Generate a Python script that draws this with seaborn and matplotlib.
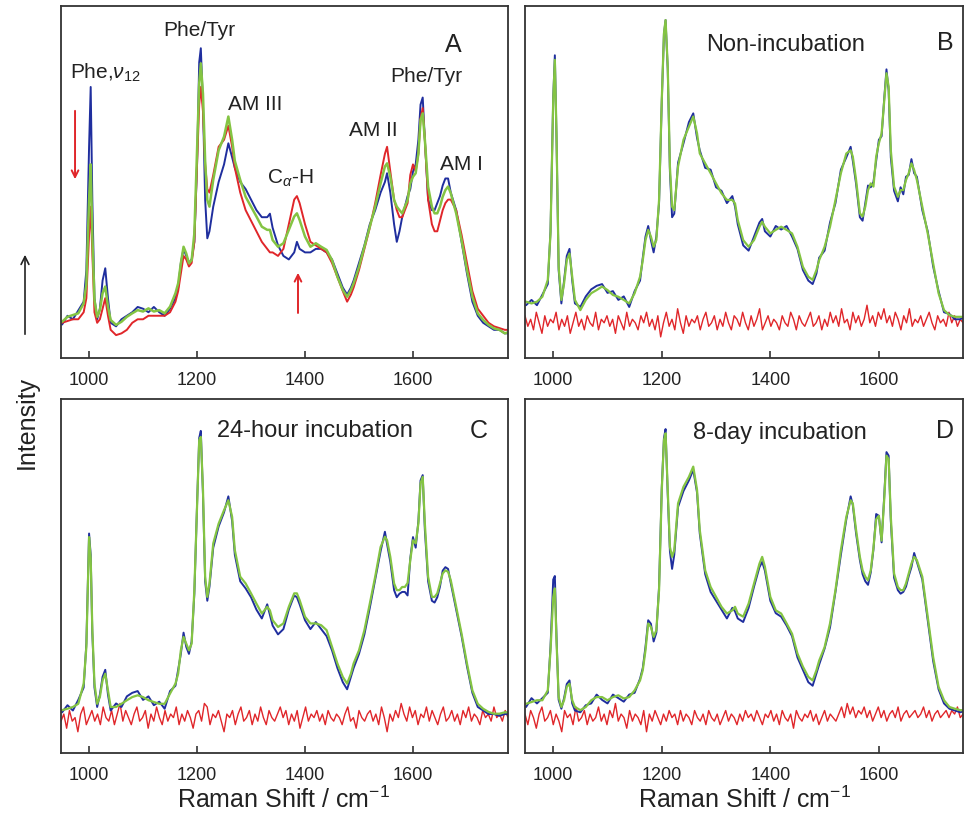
import numpy as np
import matplotlib
matplotlib.use("Agg")
import matplotlib.pyplot as plt
import seaborn as sns

# Raman shift grid (cm-1) shared by the spectra
wn = [950, 960, 970, 980, 990, 995, 1000, 1003, 1006, 1010,
      1015, 1020, 1025, 1030, 1035, 1040, 1050, 1060, 1070, 1080,
      1090, 1100, 1110, 1120, 1130, 1140, 1150, 1160, 1165, 1170,
      1175, 1180, 1185, 1190, 1195, 1200, 1204, 1207, 1211, 1215,
      1219, 1223, 1230, 1240, 1250, 1258, 1265, 1270, 1280, 1290,
      1300, 1310, 1320, 1330, 1335, 1340, 1350, 1360, 1370, 1380,
      1385, 1390, 1400, 1410, 1420, 1430, 1440, 1450, 1460, 1470,
      1478, 1485, 1490, 1500, 1510, 1520, 1530, 1540, 1548, 1552,
      1558, 1565, 1570, 1575, 1580, 1585, 1590, 1595, 1600, 1605,
      1610, 1614, 1618, 1622, 1628, 1635, 1640, 1645, 1650, 1655,
      1660, 1665, 1670, 1680, 1690, 1700, 1710, 1720, 1730, 1740,
      1750, 1760, 1770, 1780]

# panel A
a_blue = [9.5, 12, 11, 13.5, 16, 25, 60, 77, 45, 17,
          11, 14, 22, 25.5, 17, 10, 9, 11, 12, 13,
          14.5, 14, 13, 14.5, 13, 12, 14, 17, 20, 27,
          31, 29, 27, 28, 33, 55, 84, 88, 72, 45,
          34, 36, 43, 50, 55, 61, 57, 54, 50, 48,
          45, 42, 40, 40, 41, 37, 32, 29, 28, 30,
          33, 31, 30, 30, 31, 31, 30, 28, 24, 20,
          18, 20, 22, 27, 32, 38, 42, 47, 50, 52.5,
          47, 38, 33, 36, 40, 43, 46, 48, 53, 55,
          62, 72, 74, 62, 45, 42, 42, 44, 46, 49,
          51, 51, 47, 42, 33, 24, 16, 12, 10, 9,
          8, 8, 7, 7]
a_red = [10, 10.5, 11, 11, 13, 17, 35, 43, 30, 13,
         10, 11, 14, 17, 12, 8, 6.5, 7, 8, 10,
         11, 11, 12, 12, 12, 12, 13, 16, 19, 24,
         29, 28, 26, 27, 33, 55, 72, 77, 70, 55,
         48, 47, 52, 60, 62, 66, 60, 54, 47, 42,
         39, 36, 33, 31, 30, 30, 29, 31, 38, 45,
         46, 44, 38, 33, 32, 31, 30, 27, 23, 19,
         16, 18, 20, 25, 31, 37, 44, 52, 58, 60,
         53, 45, 42, 40, 40, 42, 44, 52, 55, 53,
         58, 68, 71, 62, 45, 38, 36, 36, 39, 42,
         44, 45, 45, 42, 35, 27, 19, 14, 12, 10,
         9, 8.5, 8, 8]
a_green = [10.3, 11.7, 12.2, 12.7, 15.5, 21, 45, 55, 35, 16.5,
           11.7, 13.6, 18.4, 20.3, 14.6, 10.8, 9.4, 10.3, 11.7, 12.7,
           13.6, 13.2, 14.1, 13.2, 13.6, 12.7, 14.6, 18.4, 21.2, 26.9,
           31.6, 29.7, 26.9, 27.8, 35.4, 59, 78, 83.7, 75, 56,
           44.9, 43, 50.6, 59, 62.9, 68.6, 62, 56, 50.6, 45.8,
           43, 40.2, 37.3, 36.4, 36.4, 33.5, 31.6, 32.6, 36.4, 40.2,
           41.1, 39.2, 34.5, 31.6, 32.6, 31.6, 30.7, 27.8, 23.1, 19.3,
           17.4, 19.3, 21.2, 25.9, 31.6, 37.3, 43, 49.6, 54.4, 55.3,
           51.5, 44.9, 43, 42, 41.1, 43, 44.9, 49.6, 51.5, 52.5,
           58.1, 67.6, 69.5, 62, 48.7, 43, 41.1, 41.1, 43, 45.8,
           47.7, 48.7, 46.8, 41.1, 33.5, 25, 17.4, 12.7, 10.8, 9.4,
           8.4, 8, 7, 7.5]

# panel B - non-incubation
b_blue = [15, 16.5, 15, 18, 21, 36, 74, 86, 63, 25,
          15.5, 22, 29, 31, 22, 15.5, 14.5, 17.5, 19.5, 20.5,
          21, 18.5, 19, 16.5, 17.5, 14.5, 19, 22, 28.5, 34.5,
          37.5, 33.5, 30, 34.5, 44, 73, 92, 96, 82, 53,
          40, 41, 55.5, 61, 67, 69.5, 62.5, 59, 54, 53.5,
          48.5, 47.5, 44, 46, 43, 38, 32, 30.5, 34.5, 38.5,
          39.5, 36, 34.5, 37.5, 36.5, 37.5, 34.5, 31, 25, 22,
          21, 24, 28.5, 30.5, 38.5, 44, 53.5, 57, 60, 56,
          49.5, 40, 39, 44, 49, 48.5, 50, 56, 62, 63,
          74, 82, 76, 57, 47.5, 44.5, 48.5, 46.5, 51.5, 52,
          56.5, 52.5, 51.5, 42, 36, 26, 19, 13, 12.5, 11,
          11, 12, 11, 11]
b_green = [16, 15.5, 16, 17.4, 22.2, 35.4, 73.3, 84.7, 63.8, 26,
           16.5, 21.2, 27.8, 29.7, 23.1, 16.5, 13.6, 16.5, 18.4, 19.3,
           20.3, 19.3, 17.9, 17.4, 16.5, 15.5, 18.4, 23.1, 27.8, 33.5,
           36.4, 34.5, 31.6, 33.5, 44.9, 73.3, 92.2, 96, 82.8, 54.4,
           43, 42, 54.4, 62, 65.7, 68.6, 63.8, 58.1, 55.3, 52.5,
           49.6, 46.8, 44.9, 44.9, 43.9, 39.2, 33.5, 31.6, 33.5, 37.3,
           38.7, 37.3, 35.4, 36.4, 37.3, 36.4, 35.4, 31.6, 25.9, 23.1,
           22.2, 25, 27.8, 31.6, 37.3, 44.9, 52.5, 58.1, 59, 57.2,
           50.6, 41.1, 40.2, 43, 47.7, 49.6, 48.7, 57.2, 61, 63.8,
           73.3, 80.9, 77.1, 59, 48.7, 45.8, 47.7, 47.7, 50.6, 52.5,
           55.3, 53.4, 50.6, 43, 35.4, 26.9, 18.4, 13.6, 12.2, 11.7,
           11.7, 11.7, 11.7, 11.7]
b_red = [12, 9, 11, 8, 13, 10, 7, 12, 9, 11,
         10, 13, 8, 11, 9, 12, 7, 10, 13, 9,
         11, 8, 12, 10, 9, 13, 8, 11, 10, 12,
         9, 11, 7, 12, 10, 8, 13, 9, 11, 10,
         8, 12, 10, 13, 9, 11, 8, 12, 6, 10,
         13, 9, 11, 8, 14, 10, 7, 12, 9, 11,
         10, 12, 8, 11, 13, 9, 10, 12, 8, 11,
         9, 13, 10, 8, 12, 11, 9, 13, 10, 8,
         12, 9, 11, 14, 8, 10, 12, 9, 11, 10,
         8, 12, 10, 9, 13, 11, 8, 12, 10, 9,
         11, 13, 9, 10, 12, 8, 11, 9, 13, 10,
         12, 9, 14, 10, 11, 8, 13, 10, 12, 9,
         11, 15, 10, 12, 9, 13, 11, 14, 10, 12,
         9, 13, 11, 8, 12, 10, 14, 9, 11, 10,
         12, 9, 11, 13, 10, 8, 12, 10, 11, 9,
         13, 10, 12, 9, 11, 10, 12, 9, 11, 10]

# panel C - 24-hour incubation
c_blue = [11.5, 13.5, 12, 15, 18.5, 31, 62, 56, 34, 18.5,
          13, 16.5, 21.5, 23.5, 16.5, 12, 14, 13, 16, 17,
          17.5, 15, 16, 13.5, 14.5, 12.5, 17.5, 19, 23.5, 28,
          34, 30, 28, 31.5, 45, 70, 89, 91, 73, 48.5,
          43, 47, 58, 64, 68, 72.5, 65.5, 56, 48.5, 46.5,
          44, 40.5, 38, 42, 39, 36, 33.5, 35, 40.5, 44.5,
          44, 42, 37.5, 35, 37, 35, 33, 29, 24, 20,
          18, 21.5, 24, 28, 33.5, 41, 49, 57, 62.5, 59,
          54, 46, 44, 45, 45.5, 45.5, 44.5, 55, 61, 58,
          65.5, 77, 78.5, 63, 48.5, 43, 42.5, 44, 47, 51.5,
          52.5, 52, 48, 40.5, 33, 24.5, 17, 13, 12, 11,
          11, 10.5, 11, 11]
c_green = [12.1, 12.5, 13, 13.9, 19.6, 30, 61, 55, 35, 19.6,
           13.9, 15.8, 20.5, 22.4, 17.7, 13, 13, 13.9, 14.9, 15.8,
           16.3, 15.8, 14.9, 14.4, 13.9, 13.9, 16.8, 19.6, 22.4, 29,
           32.8, 30.9, 29, 30.9, 46, 69.6, 88.4, 89.3, 74.3, 49.8,
           44.1, 47.9, 59.2, 64.8, 68.6, 71.4, 66.7, 57.3, 49.8, 47.9,
           45.1, 42.2, 39.4, 41.3, 40.3, 37.5, 35.6, 36.6, 41.3, 45.1,
           45.1, 43.2, 38.5, 36.6, 36.6, 36.1, 34.7, 30, 25.3, 21.5,
           19.6, 22.4, 25.3, 29, 34.7, 42.2, 49.8, 58.2, 61.1, 60.1,
           55.4, 47.9, 46, 46, 46.9, 46.9, 48, 54.5, 60.1, 59.2,
           64.8, 76.2, 78, 64.8, 49.8, 44.1, 44.1, 45.1, 47.9, 50.7,
           51.6, 51.2, 48.8, 41.3, 33.7, 25.3, 17.7, 13.9, 12.5, 11.6,
           11.1, 11.1, 11.5, 11.5]
c_red = [9, 11, 7, 12, 9, 10, 6, 11, 13, 8,
         10, 12, 9, 11, 8, 13, 10, 9, 12, 8,
         11, 14, 9, 12, 10, 8, 11, 13, 9, 10,
         12, 7, 11, 9, 13, 10, 8, 12, 9, 11,
         10, 13, 8, 11, 9, 12, 10, 7, 11, 12,
         9, 14, 13, 8, 11, 10, 12, 9, 6, 11,
         10, 12, 8, 11, 13, 9, 10, 12, 8, 11,
         9, 13, 10, 8, 12, 10, 9, 11, 13, 10,
         12, 8, 11, 9, 12, 7, 10, 13, 9, 11,
         10, 12, 9, 11, 8, 12, 10, 9, 11, 10,
         8, 11, 13, 9, 10, 7, 12, 10, 9, 11,
         12, 9, 11, 8, 13, 10, 6, 11, 9, 12,
         10, 14, 11, 9, 13, 10, 12, 8, 11, 10,
         13, 9, 12, 10, 8, 11, 13, 9, 10, 12,
         9, 11, 8, 12, 10, 13, 9, 11, 10, 8,
         12, 10, 11, 9, 13, 10, 11, 9, 12, 10]

# panel D - 8-day incubation
d_blue = [13, 15.5, 14, 15.5, 17, 30, 49, 50, 33, 15,
          12.5, 15.5, 19.5, 20.5, 14, 12, 11.5, 13.5, 14, 16.5,
          15, 14, 16.5, 15.5, 14.5, 16.5, 17, 21, 24, 30,
          37.5, 36.5, 31.5, 34, 47, 75, 89, 91.5, 73, 57,
          52, 56, 69.5, 74, 77, 80, 73.5, 62, 50.5, 45.5,
          43, 40.5, 38, 41, 40, 38, 37, 41, 47, 52.5,
          54, 51.5, 43, 39.5, 38.5, 36, 33, 27, 23.5, 20,
          19, 22.5, 25, 29.5, 35.5, 45.5, 56, 66, 72.5, 70,
          62, 54.5, 50.5, 48.5, 47.5, 51, 57.5, 67.5, 67, 59.5,
          73, 85, 84, 65.5, 49.5, 46, 45, 45.5, 47, 50,
          52.5, 56.5, 54, 49, 37.5, 26, 18, 14, 12.5, 12,
          11.5, 12, 12, 12]
d_green = [13.9, 14.4, 14.9, 14.9, 17.7, 29, 44, 46.5, 31.9, 15.8,
           13, 14.9, 18.7, 19.6, 14.9, 13, 12.1, 13, 14.9, 15.8,
           15.8, 14.9, 15.8, 16.3, 15.4, 15.8, 17.7, 20.5, 23.4, 29,
           36.6, 35.6, 32.8, 34.7, 46, 74.3, 88.4, 90.3, 74.3, 58.2,
           55.4, 57.3, 70.5, 75.2, 78, 80.9, 74.3, 63, 51.6, 46.9,
           44.1, 41.3, 39.4, 40.3, 41.3, 39.4, 38.5, 42.2, 47.9, 53.5,
           55.4, 52.6, 44.1, 40.3, 39.4, 36.6, 33.7, 28.1, 24.4, 21.5,
           20.5, 23.4, 26.1, 29.9, 36.6, 46, 57.3, 66.7, 71.4, 70.5,
           63, 55.4, 51.6, 49.8, 48.8, 51.6, 58, 66, 67, 60,
           72, 84, 83, 66.7, 50.7, 46.9, 46, 46, 47.9, 50.7,
           53.5, 55.4, 54.5, 49.8, 38.5, 27.1, 18.7, 14.9, 13, 12.5,
           12.1, 12.1, 12, 12]
d_red = [11, 8, 12, 10, 7, 11, 13, 9, 10, 12,
         8, 11, 9, 6, 12, 10, 11, 8, 13, 9,
         10, 12, 8, 11, 9, 10, 13, 9, 11, 8,
         12, 10, 14, 9, 11, 10, 7, 12, 9, 11,
         10, 8, 12, 6, 11, 9, 12, 10, 8, 11,
         9, 12, 10, 11, 8, 12, 9, 11, 10, 8,
         12, 10, 9, 11, 8, 12, 10, 9, 11, 8,
         10, 12, 9, 11, 10, 8, 11, 9, 12, 10,
         11, 9, 12, 10, 8, 11, 10, 12, 9, 11,
         8, 12, 10, 9, 11, 7, 12, 10, 9, 11,
         10, 12, 9, 11, 8, 10, 12, 9, 11, 10,
         9, 11, 13, 10, 14, 11, 13, 10, 12, 11,
         13, 10, 12, 9, 11, 13, 10, 12, 9, 11,
         12, 10, 13, 9, 11, 12, 10, 11, 12, 10,
         11, 13, 10, 12, 9, 11, 12, 10, 11, 12,
         10, 12, 11, 13, 10, 11, 12, 10, 11, 10]

BLUE = "#1f2e9e"
RED = "#e0262a"
GREEN = "#84c443"

sns.set_theme(style="white")
plt.rcParams["font.family"] = ["Liberation Sans", "DejaVu Sans"]
plt.rcParams["mathtext.fontset"] = "custom"
plt.rcParams["mathtext.rm"] = "Liberation Sans"
plt.rcParams["mathtext.it"] = "Liberation Sans:italic"

fig = plt.figure(figsize=(9.64, 8.17), dpi=100)
W, H = 964, 817


def add_panel(left, top, right, bottom, xlim):
    ax = fig.add_axes([left / W, 1 - bottom / H, (right - left) / W, (bottom - top) / H])
    ax.set_xlim(*xlim)
    ax.set_ylim(0, 100)
    for s in ax.spines.values():
        s.set_color("#333333")
        s.set_linewidth(1.3)
    ax.set_xticks([1000, 1200, 1400, 1600])
    ax.set_yticks([])
    ax.tick_params(axis="x", direction="in", length=5, width=1.2, color="#333333",
                   labelsize=13, pad=10, bottom=True, labelcolor="#222222")
    return ax


axA = add_panel(61, 6, 508, 358, (948, 1776))
axB = add_panel(525, 6, 963, 358, (948, 1755))
axC = add_panel(61, 399, 508, 753, (948, 1776))
axD = add_panel(525, 399, 963, 753, (948, 1755))

# panel A: three spectra compared
sns.lineplot(x=wn, y=a_blue, ax=axA, color=BLUE, lw=1.4, errorbar=None)
sns.lineplot(x=wn, y=a_red, ax=axA, color=RED, lw=1.4, errorbar=None)
sns.lineplot(x=wn, y=a_green, ax=axA, color=GREEN, lw=1.8, errorbar=None)

# panels B-D: flat red background plus blue/green spectra
for ax, blue, green, red in [(axB, b_blue, b_green, b_red),
                             (axC, c_blue, c_green, c_red),
                             (axD, d_blue, d_green, d_red)]:
    base_x = np.linspace(948, 1776, len(red))
    sns.lineplot(x=base_x, y=red, ax=ax, color=RED, lw=1.0, errorbar=None)
    sns.lineplot(x=wn, y=blue, ax=ax, color=BLUE, lw=1.4, errorbar=None)
    sns.lineplot(x=wn, y=green, ax=ax, color=GREEN, lw=1.6, errorbar=None)

for ax in [axA, axB, axC, axD]:
    ax.set_xlabel("")
    ax.set_ylabel("")
    ax.set_yticks([])

# panel A band labels
lab = dict(fontsize=15, ha="center", va="center", color="#222222")
axA.text(1205, 93, "Phe/Tyr", **lab)
axA.text(1030, 81, r"Phe,$\nu_{12}$", **lab)
axA.text(1307, 72, "AM III", **lab)
axA.text(1372, 51, r"C$_{\alpha}$-H", **lab)
axA.text(1526, 64.5, "AM II", **lab)
axA.text(1625, 80, "Phe/Tyr", **lab)
axA.text(1690, 55, "AM I", **lab)
axA.annotate("", xy=(974, 50), xytext=(974, 71),
             arrowprops=dict(arrowstyle="->", color=RED, lw=1.4))
axA.annotate("", xy=(1387, 25), xytext=(1387, 12),
             arrowprops=dict(arrowstyle="->", color=RED, lw=1.4))

big = dict(fontsize=18, ha="center", va="center", color="#222222")
axA.text(1675, 89, "A", **big)
axB.text(1723, 89.5, "B", **big)
axC.text(1721, 91, "C", **big)
axD.text(1721, 91, "D", **big)

cap = dict(fontsize=17, ha="center", va="center", color="#222222")
axB.text(1428, 89, "Non-incubation", **cap)
axC.text(1418, 91, "24-hour incubation", **cap)
axD.text(1418, 90.5, "8-day incubation", **cap)

fig.text(284 / W, 1 - 800 / H, r"Raman Shift / cm$^{-1}$", fontsize=18,
         ha="center", va="center", color="#222222")
fig.text(745 / W, 1 - 800 / H, r"Raman Shift / cm$^{-1}$", fontsize=18,
         ha="center", va="center", color="#222222")
fig.text(27 / W, 1 - 422 / H, "Intensity", fontsize=18, rotation=90,
         ha="center", va="center", color="#222222")
fig.add_artist(matplotlib.patches.FancyArrowPatch(
    (25 / W, 1 - 337 / H), (25 / W, 1 - 252 / H), transform=fig.transFigure,
    arrowstyle="->", mutation_scale=14, color="#222222", lw=1.2))

fig.savefig("out.png", dpi=100, facecolor="white")
